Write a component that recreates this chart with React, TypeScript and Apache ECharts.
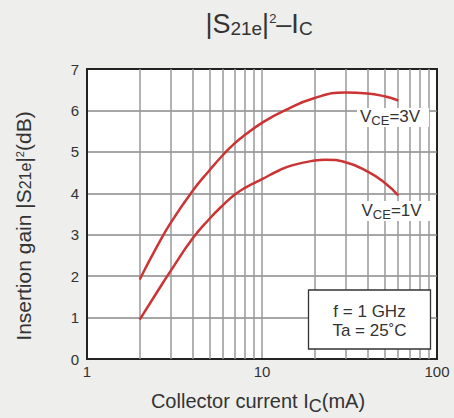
import React, { useEffect, useRef } from "react";
import * as echarts from "echarts";

const FONT = '"Liberation Sans", Arial, Helvetica, sans-serif';
const TEXT = "#333333";
const RED = "#cc3333";

// Collector current (mA) and insertion gain (dB)
const current3V = [2, 2.5, 3, 4, 5, 6, 7, 8, 10, 13.5, 20, 30, 40, 50, 60];
const gain3V = [1.92, 2.7, 3.28, 4.05, 4.55, 4.93, 5.21, 5.41, 5.7, 6.0, 6.3, 6.43, 6.41, 6.34, 6.24];

const current1V = [2, 2.5, 3, 4, 5, 6, 7, 8, 10, 12.5, 15, 20, 23, 30, 40, 50, 60];
const gain1V = [0.95, 1.6, 2.12, 2.9, 3.38, 3.72, 3.97, 4.13, 4.34, 4.55, 4.68, 4.79, 4.81, 4.75, 4.53, 4.26, 3.95];

const minorGridX = [2, 3, 4, 5, 6, 7, 8, 9, 20, 30, 40, 50, 60, 70, 80, 90];

// rich-text token whose visual centre sits `center` px below the line top
const tok = (fontSize: number, center: number) => ({
  fontSize,
  verticalAlign: "top",
  padding: [Math.max(0, center - fontSize / 2), 0, 0, 0],
  fontFamily: FONT,
  fill: TEXT,
});

export default function App() {
  const ref = useRef<HTMLDivElement>(null);
  useEffect(() => {
    if (!ref.current) return;
    const chart = echarts.init(ref.current, null, { renderer: "svg" });
    const option: any = {
      animation: false,
      backgroundColor: "#eeeeec",
      grid: {
        left: 87,
        top: 69,
        width: 350,
        height: 290,
        show: true,
        backgroundColor: "#ffffff",
        borderColor: "#222",
        borderWidth: 2,
      },
      xAxis: {
        type: "log",
        logBase: 10,
        min: 1,
        max: 100,
        axisLine: { show: true, lineStyle: { color: "#222", width: 2 } },
        axisTick: { show: false },
        axisLabel: { color: TEXT, fontSize: 15, fontFamily: FONT, margin: 5 },
        splitLine: { show: true, showMinLine: false, showMaxLine: false, lineStyle: { color: "#999", width: 1.5 } },
      },
      yAxis: {
        type: "value",
        min: 0,
        max: 7,
        interval: 1,
        axisLine: { show: true, lineStyle: { color: "#222", width: 2 } },
        axisTick: { show: false },
        axisLabel: { color: TEXT, fontSize: 15, fontFamily: FONT, margin: 8 },
        splitLine: { show: true, showMinLine: false, showMaxLine: false, lineStyle: { color: "#888", width: 1.5 } },
      },
      series: [
        {
          type: "line",
          data: [],
          z: 1,
          silent: true,
          markLine: {
            silent: true,
            symbol: ["none", "none"],
            label: { show: false },
            lineStyle: { color: "#999", width: 1.5, type: "solid" },
            emphasis: { disabled: true },
            data: minorGridX.map((v) => ({ xAxis: v })),
          },
        },
        {
          name: "VCE=3V",
          type: "line",
          z: 5,
          smooth: 0.5,
          showSymbol: false,
          lineStyle: { color: RED, width: 2.5 },
          itemStyle: { color: RED },
          data: current3V.map((c, i) => [c, gain3V[i]]),
        },
        {
          name: "VCE=1V",
          type: "line",
          z: 5,
          smooth: 0.5,
          showSymbol: false,
          lineStyle: { color: RED, width: 2.5 },
          itemStyle: { color: RED },
          data: current1V.map((c, i) => [c, gain1V[i]]),
        },
      ],
      graphic: [
        {
          type: "text",
          x: 259,
          y: 0,
          z: 100,
          style: {
            text: "{m||S}{s|21e}{m||}{p|2}{m|–I}{s|C}",
            textAlign: "center",
            textVerticalAlign: "top",
            fill: TEXT,
            rich: { m: tok(27, 24), s: tok(19, 28.5), p: tok(13, 18.2) },
          },
        },
        {
          type: "text",
          x: 258,
          y: 380,
          z: 100,
          style: {
            text: "{m|Collector current I}{s|C}{m|(mA)}",
            textAlign: "center",
            textVerticalAlign: "top",
            fill: TEXT,
            rich: { m: tok(20, 20.5), s: tok(18, 26.3) },
          },
        },
        {
          type: "text",
          x: 9.3,
          y: 226,
          rotation: Math.PI / 2,
          z: 100,
          style: {
            text: "{m|Insertion gain |S}{s|21e}{m||}{p|2}{m|(dB)}",
            textAlign: "center",
            textVerticalAlign: "top",
            fill: TEXT,
            rich: { m: tok(21, 14), s: tok(16, 15.8), p: tok(11, 10.4) },
          },
        },
        { type: "rect", z: 90, shape: { x: 357, y: 108, width: 72, height: 19 }, style: { fill: "#fff" } },
        {
          type: "text",
          x: 360,
          y: 106,
          z: 100,
          style: {
            text: "{m|V}{s|CE}{m|=3V}",
            textAlign: "left",
            textVerticalAlign: "top",
            fill: TEXT,
            rich: { m: tok(17, 10), s: tok(13, 14.8) },
          },
        },
        { type: "rect", z: 90, shape: { x: 358, y: 201, width: 72, height: 20 }, style: { fill: "#fff" } },
        {
          type: "text",
          x: 361.5,
          y: 200,
          z: 100,
          style: {
            text: "{m|V}{s|CE}{m|=1V}",
            textAlign: "left",
            textVerticalAlign: "top",
            fill: TEXT,
            rich: { m: tok(17, 10), s: tok(13, 14.8) },
          },
        },
        {
          type: "rect",
          z: 90,
          shape: { x: 308.5, y: 290, width: 122, height: 59 },
          style: { fill: "#fff", stroke: "#333", lineWidth: 1.3 },
        },
        {
          type: "text",
          x: 369.5,
          y: 311,
          z: 100,
          style: {
            text: "f = 1 GHz",
            textAlign: "center",
            textVerticalAlign: "middle",
            fill: TEXT,
            fontSize: 17,
            fontFamily: FONT,
          },
        },
        {
          type: "text",
          x: 369.5,
          y: 330,
          z: 100,
          style: {
            text: "Ta = 25˚C",
            textAlign: "center",
            textVerticalAlign: "middle",
            fill: TEXT,
            fontSize: 17,
            fontFamily: FONT,
          },
        },
      ],
    };
    chart.setOption(option);
    return () => chart.dispose();
  }, []);
  return (
    <div
      ref={ref}
      style={{ position: "absolute", left: 0, top: 0, width: 454, height: 418 }}
    />
  );
}
